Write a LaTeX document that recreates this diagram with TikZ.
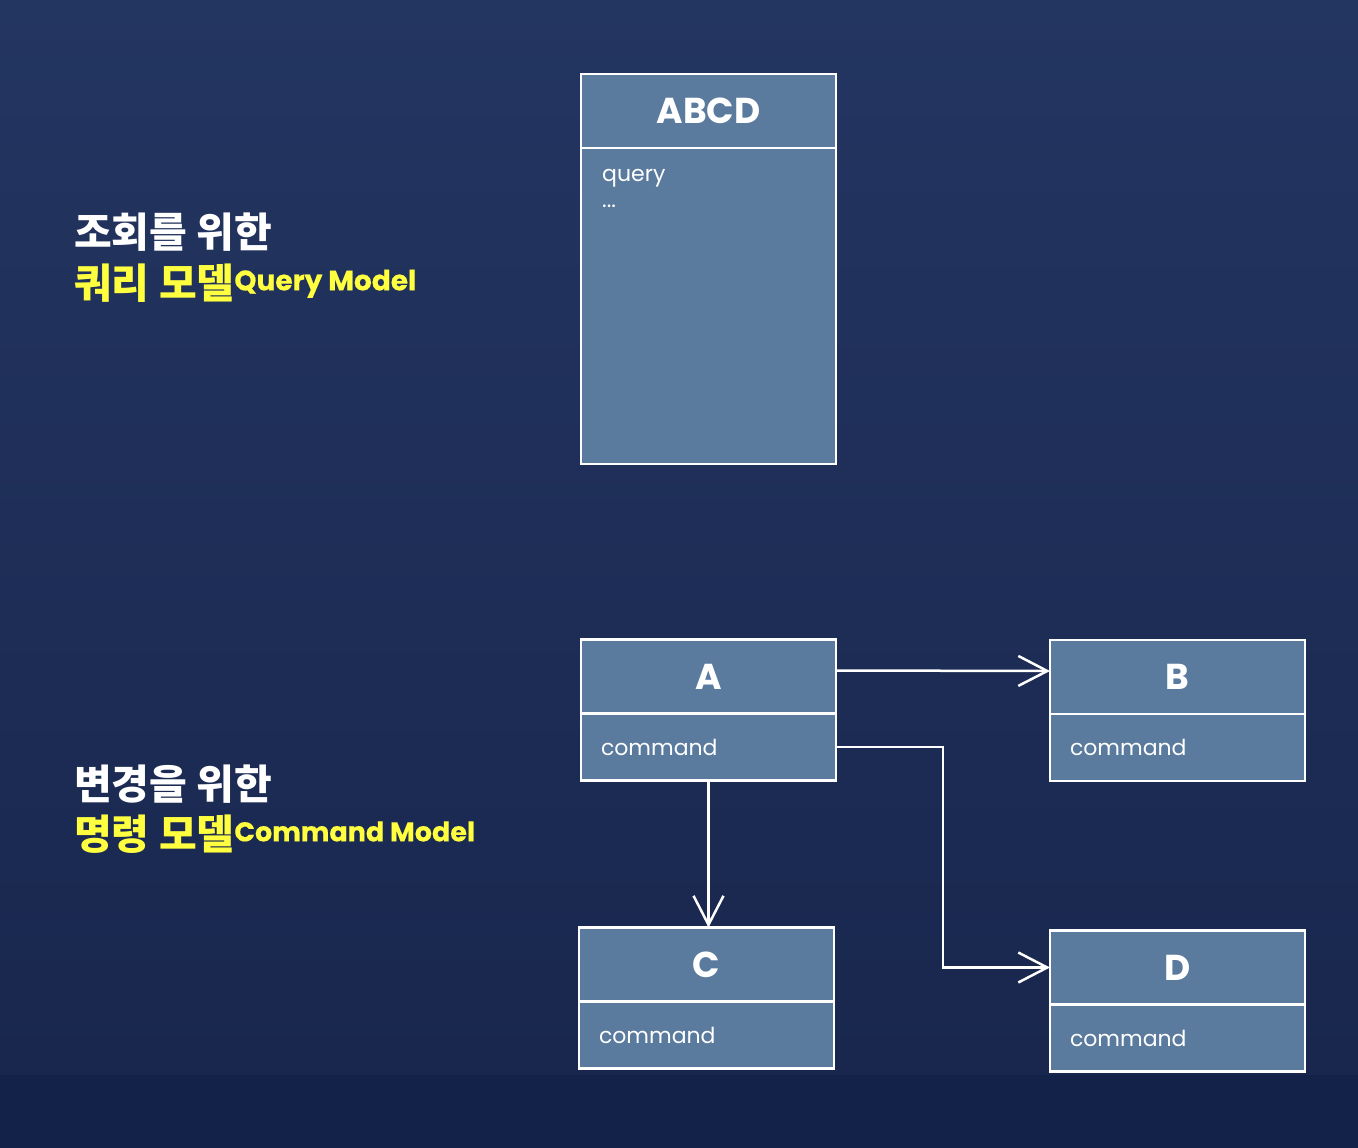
\documentclass[tikz,border=0pt]{standalone}
\usepackage{fontspec}
\setmainfont{Poppins}
\newfontfamily\krfont{Noto Sans CJK KR}
\newfontfamily\medfont[FakeBold=0.4]{Poppins}
\usepackage{xcolor}
\usetikzlibrary{arrows.meta, positioning}
\definecolor{bgtop}{RGB}{35, 53, 97}
\definecolor{bgbottom}{RGB}{25, 39, 78}
\definecolor{bgband}{RGB}{19, 34, 72}
\definecolor{boxfill}{RGB}{90, 122, 158}
\definecolor{hiyellow}{RGB}{255, 255, 64}

\begin{document}
\begin{tikzpicture}[x=1pt, y=-1pt, >={Straight Barb[length=29pt, width=30pt]}]
    \tikzset{
        hdr/.style={draw=white, line width=2.5pt, fill=boxfill, minimum width=255pt,
            minimum height=74pt, inner sep=0pt, outer sep=0pt, text=white,
            font=\bfseries\fontsize{36}{42}\selectfont},
        body/.style={draw=white, line width=2.5pt, fill=boxfill, minimum height=67pt,
            text width=215pt, inner xsep=20pt, inner ysep=0pt, outer sep=0pt, align=left,
            text=white, font=\fontsize{22}{26}\selectfont},
        link/.style={->, draw=white, line width=2.5pt},
        kortext/.style={anchor=west, inner sep=0pt, font=\krfont\bfseries\fontsize{41}{48}\selectfont}
    }
    \shade[top color=bgtop, bottom color=bgbottom] (0,0) rectangle (1358,1075);
    \fill[bgband] (0,1075) rectangle (1358,1148);
    \useasboundingbox (0,0) rectangle (1358,1148);

    % query side
    \node[kortext, text=white] (qtitle) at (74,232) {조회를 위한};
    \node[kortext, text=hiyellow] (qmodel) at (74,283)
        {쿼리 모델\raisebox{8pt}{\medfont\fontsize{28}{32}\selectfont Query Model}};
    \node[hdr] (abcd) at (708.5,111) {ABCD};
    \node[body, minimum height=316pt, below=0pt of abcd] (abcdbody) {};
    \node[anchor=north west, inner sep=0pt, align=left, text=white,
        font=\fontsize{22}{26}\selectfont] (abcdtext) at (602,169) {query\\...};

    % command side
    \node[kortext, text=white] (ctitle) at (74,784) {변경을 위한};
    \node[kortext, text=hiyellow] (cmodel) at (74,834)
        {명령 모델\raisebox{8pt}{\medfont\fontsize{27}{32}\selectfont Command Model}};
    \node[hdr] (a) at (708.5,676.5) {A};
    \node[body, below=0pt of a] (abody) {command};
    \node[hdr] (b) at (1177.5,677) {B};
    \node[body, below=0pt of b] (bbody) {command};
    \node[hdr] (c) at (706.5,964.5) {C};
    \node[body, below=0pt of c] (cbody) {command};
    \node[hdr] (d) at (1177.5,967.5) {D};
    \node[body, below=0pt of d] (dbody) {command};

    \draw[link] ([yshift=6pt]a.east) -- ([yshift=6pt]b.west);
    \draw[link] (abody.east) -- ++(107,0) |- (d.west);
    \draw[link] (abody.south) -- (abody.south |- c.north);
\end{tikzpicture}
\end{document}
